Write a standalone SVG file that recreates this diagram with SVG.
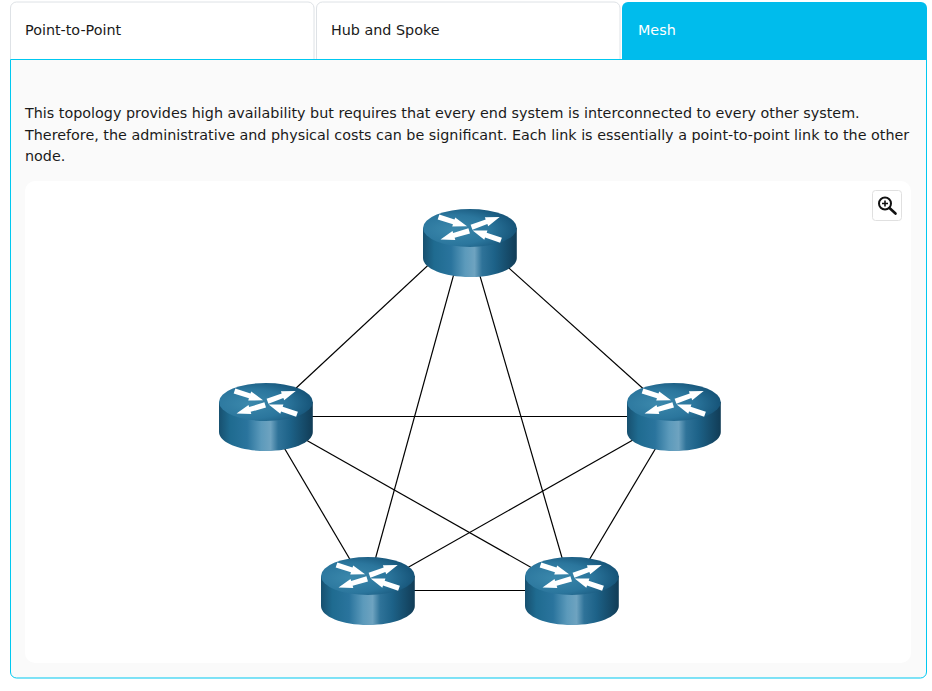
<svg xmlns="http://www.w3.org/2000/svg" width="932" height="691" viewBox="0 0 932 691">
<style>
text{font-family:"DejaVu Sans",sans-serif;font-size:14.33px;fill:#1a1a1a}
.tab{fill:#fff;stroke:#dee2e6;stroke-width:1}
.link{stroke:#000;stroke-width:1.2;fill:none}
.arrow{fill:#fff}
</style>
<defs>
<linearGradient id="side" x1="0" x2="1" y1="0" y2="0">
<stop offset="0" stop-color="#17506f"/><stop offset=".12" stop-color="#1f6b90"/><stop offset=".3" stop-color="#2a749d"/><stop offset=".45" stop-color="#5c9abb"/><stop offset=".55" stop-color="#6ea3c0"/><stop offset=".63" stop-color="#2f7399"/><stop offset=".76" stop-color="#1d6288"/><stop offset="1" stop-color="#113c56"/>
</linearGradient>
<radialGradient id="top" cx=".32" cy=".55" r=".72">
<stop offset="0" stop-color="#3b88ac"/><stop offset=".55" stop-color="#2b769d"/><stop offset="1" stop-color="#134f73"/>
</radialGradient>
<path id="arw" d="M0-2.700 16-2.500 16-4.800 30 0 16 4.800 16 2.500 0 2.700Z"/>
<g id="router">
<path d="M-47-15V15C-47 25.500-26 34 0 34S46.800 25.500 46.800 15V-15Z" fill="url(#side)"/>
<ellipse cx="-.1" cy="-15" rx="46.900" ry="19" fill="url(#top)"/>
<g class="arrow">
<use href="#arw" transform="translate(-31.500-26) rotate(18)"/>
<use href="#arw" transform="translate(1.500-15.800) rotate(-20)"/>
<use href="#arw" transform="translate(-.8-12.200) rotate(163)"/>
<use href="#arw" transform="translate(31-2.700) rotate(199)"/>
</g>
</g>
</defs>
<rect width="932" height="691" fill="#fff"/>
<path id="panel" d="M10.500 59.500H926.500V672a6 6 0 0 1-6 6H16.500a6 6 0 0 1-6-6Z" fill="#fafafa" stroke="#00c8f0"/>
<g id="tab-point-to-point"><path class="tab" d="M10.500 59V8a6 6 0 0 1 6-6H308a6 6 0 0 1 6 6V59"/><text x="25" y="35">Point-to-Point</text></g>
<g id="tab-hub-and-spoke"><path class="tab" d="M316.500 59V8a6 6 0 0 1 6-6H614a6 6 0 0 1 6 6V59"/><text x="331" y="35">Hub and Spoke</text></g>
<g id="tab-mesh"><path d="M622 60V8a6 6 0 0 1 6-6H921a6 6 0 0 1 6 6V60Z" fill="#00bcec"/><text x="638" y="35" style="fill:#fff">Mesh</text></g>
<g id="description">
<text x="25" y="118">This topology provides high availability but requires that every end system is interconnected to every other system.</text>
<text x="25" y="140">Therefore, the administrative and physical costs can be significant. Each link is essentially a point-to-point link to the other</text>
<text x="25" y="161">node.</text>
</g>
<rect id="canvas" x="25" y="181" width="886" height="482" rx="10" fill="#fff"/>
<g id="zoom-button">
<rect x="872.500" y="190.500" width="29" height="30" rx="3" fill="#fff" stroke="#e0e0e0"/>
<circle cx="885" cy="203.500" r="6" fill="none" stroke="#111" stroke-width="2"/>
<path d="M882 203.500h6M885 200.500v6" stroke="#111" stroke-width="1.600"/>
<path d="M889.500 208l6 5.500" stroke="#111" stroke-width="2.600" stroke-linecap="round"/>
</g>
<g id="connectors">
<line class="link" x1="452" y1="243" x2="265" y2="417"/>
<line class="link" x1="481" y1="243" x2="674.700" y2="417"/>
<line class="link" x1="462.400" y1="243" x2="366.500" y2="591"/>
<line class="link" x1="470.400" y1="243" x2="571.700" y2="591"/>
<line class="link" x1="266" y1="416.500" x2="674" y2="416.500"/>
<line class="link" x1="266" y1="417" x2="368.600" y2="591"/>
<line class="link" x1="265.400" y1="417" x2="572.800" y2="591"/>
<line class="link" x1="673.500" y1="417" x2="366.400" y2="591"/>
<line class="link" x1="674.300" y1="417" x2="570.700" y2="591"/>
<line class="link" x1="368" y1="590.500" x2="572" y2="590.500"/>
</g>
<g id="router-top"><use href="#router" x="470" y="243"/></g>
<g id="router-left"><use href="#router" x="266" y="417"/></g>
<g id="router-right"><use href="#router" x="674" y="417"/></g>
<g id="router-bottom-left"><use href="#router" x="368" y="591"/></g>
<g id="router-bottom-right"><use href="#router" x="572" y="591"/></g>
</svg>
